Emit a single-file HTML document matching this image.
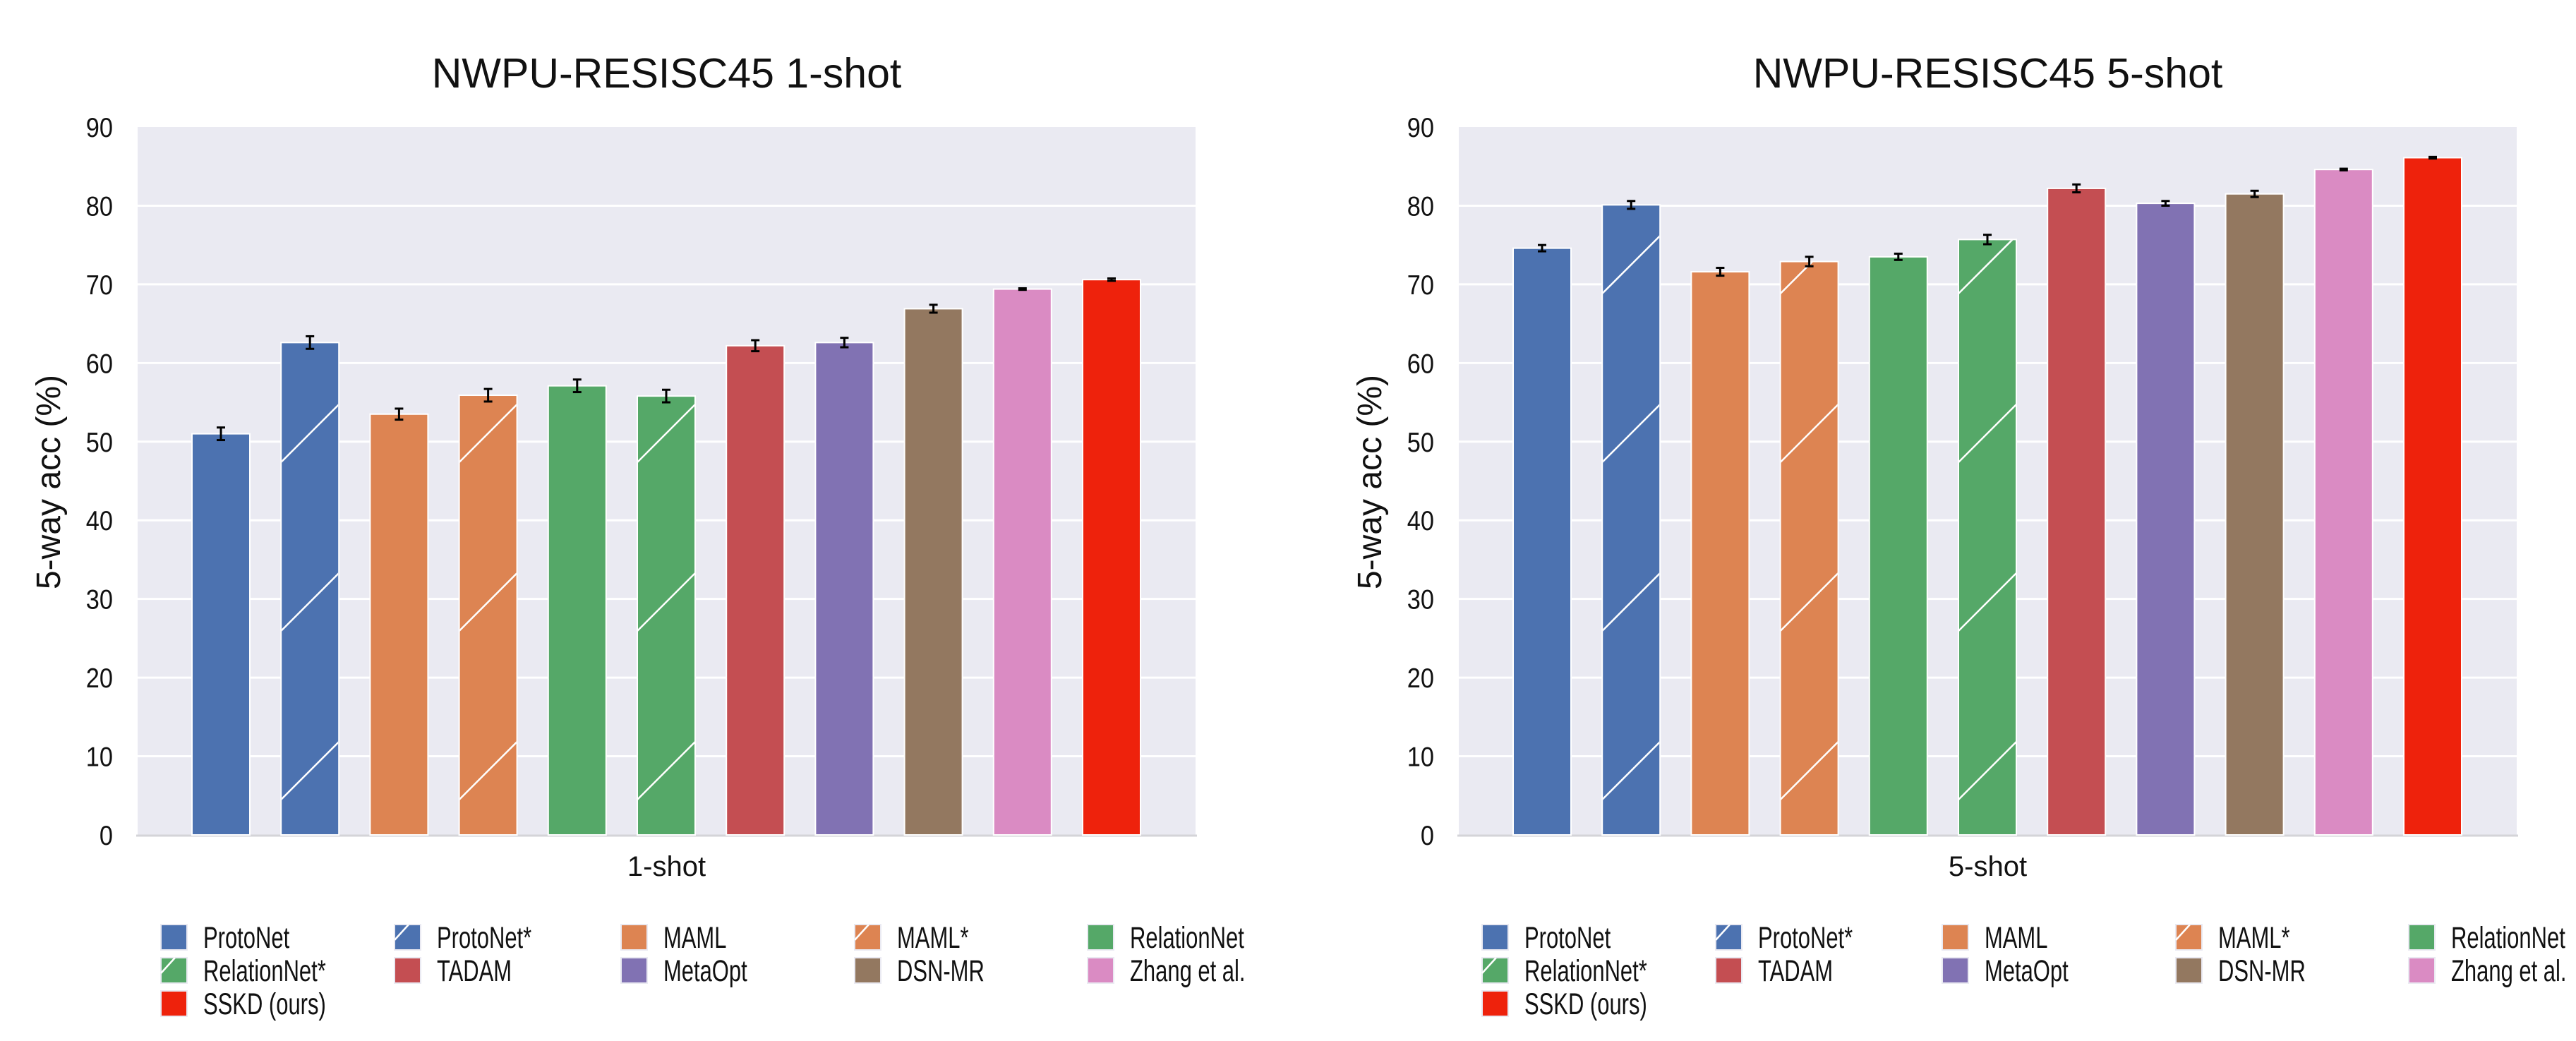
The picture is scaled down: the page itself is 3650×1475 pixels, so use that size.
<!DOCTYPE html>
<html><head><meta charset="utf-8">
<style>
html,body{margin:0;padding:0;background:#fff;}
svg{display:block;font-family:"Liberation Sans",Arial,sans-serif;}
</style></head>
<body>
<svg id="fig" width="3650" height="1475" viewBox="0 0 3650 1475" xmlns="http://www.w3.org/2000/svg"></svg>
<script>
const methods = ["ProtoNet","ProtoNet*","MAML","MAML*","RelationNet","RelationNet*","TADAM","MetaOpt","DSN-MR","Zhang et al.","SSKD (ours)"];
const colors = ["#4c72b0","#4c72b0","#dd8452","#dd8452","#55a868","#55a868","#c44e52","#8172b3","#937860","#da8bc3","#ee220c"];
const hatched = [false,true,false,true,false,true,false,false,false,false,false];
const oneShot = [51.0,62.6,53.5,55.9,57.1,55.8,62.2,62.6,66.9,69.4,70.6];
const oneShotErr = [0.8,0.8,0.7,0.8,0.8,0.8,0.7,0.6,0.5,0.1,0.15];
const fiveShot = [74.6,80.1,71.6,72.9,73.5,75.7,82.2,80.3,81.5,84.6,86.1];
const fiveShotErr = [0.4,0.5,0.5,0.6,0.4,0.6,0.5,0.3,0.4,0.1,0.1];
const yTicks = [0,10,20,30,40,50,60,70,80,90];

const NS="http://www.w3.org/2000/svg";
const svg=document.getElementById('fig');
function mk(tag,attrs,parent){const e=document.createElementNS(NS,tag);for(const k in attrs)e.setAttribute(k,attrs[k]);(parent||svg).appendChild(e);return e;}

const PT=180, PB=1183, PW=1499;
function yScale(v){return PB-(v/90)*(PB-PT);}

function drawPanel(px, title, xlabel, vals, errs, pid){
  const g=mk('g',{});
  
  
  const bg=mk('rect',{x:px,y:PT,width:PW,height:PB-PT,fill:'#eaeaf2'},g);
  
  
  yTicks.forEach(t=>{
    const y=yScale(t);
    if(t>0&&t<90){const l=mk('line',{x1:px,x2:px+PW,y1:y,y2:y,stroke:'#fff','stroke-width':3},g);
      
      }
    const tx=mk('text',{x:px-35,y:y+14,'font-size':39,'text-anchor':'end',fill:'#111'},g);
    tx.textContent=t;
    
    
    const w=tx.getComputedTextLength();
    tx.setAttribute('textLength',(w*0.88).toFixed(1));
    tx.setAttribute('lengthAdjust','spacingAndGlyphs');
  });
  const ax=mk('line',{x1:px-2,x2:px+PW+2,y1:PB+1,y2:PB+1,stroke:'#d4d4d8','stroke-width':3},g);
  
  
  const step=126.2, bw=82, first=px+118;
  vals.forEach((v,i)=>{
    const cx=first+i*step, x0=cx-bw/2, yt=yScale(v);
    const r=mk('rect',{x:x0,y:yt,width:bw,height:PB-yt,fill:colors[i],stroke:'#fff','stroke-width':2},g);
    
    
    if(hatched[i]){
      const cid=pid+'clip'+i;
      const cp=mk('clipPath',{id:cid},g);
      mk('rect',{x:x0+1,y:yt+1,width:bw-2,height:PB-yt-2},cp);
      const hg=mk('g',{'clip-path':'url(#'+cid+')'},g);
      
      
      for(let k=0;k<10;k++){
        const ly=PB-50-k*239;
        mk('line',{x1:x0,y1:ly,x2:x0+bw,y2:ly-bw,stroke:'#fff','stroke-width':2.5},hg);
      }
    }
    const e=errs[i], y1=yScale(v+e), y2=yScale(v-e);
    const eg=mk('g',{stroke:'#000','stroke-width':3},g);
    
    
    mk('line',{x1:cx,x2:cx,y1:y1,y2:y2},eg);
    mk('line',{x1:cx-6,x2:cx+6,y1:y1,y2:y1},eg);
    mk('line',{x1:cx-6,x2:cx+6,y1:y2,y2:y2},eg);
  });
  const tt=mk('text',{x:px+PW/2,y:124,'font-size':59,'text-anchor':'middle',fill:'#111'},g);
  tt.textContent=title;
  
  
  const xl=mk('text',{x:px+PW/2,y:1241,'font-size':40,'text-anchor':'middle',fill:'#111'},g);
  xl.textContent=xlabel;
  
  
  const yl=mk('text',{x:0,y:0,'font-size':48,'text-anchor':'middle',fill:'#111',transform:'translate('+(px-110)+',683) rotate(-90)'},g);
  yl.textContent='5-way acc (%)';
  
  
  // legend
  const colX=[228,559,880,1211,1541].map(v=>v-195+px);
  const rowY=[1310,1357,1404];
  methods.forEach((m,i)=>{
    const c=i%5, rw=Math.floor(i/5);
    const lx=colX[c], ly=rowY[rw];
    const lg=mk('g',{},g);
    
    
    mk('rect',{x:lx,y:ly,width:37,height:36,fill:colors[i],stroke:'#eaeaf2','stroke-width':2},lg);
    if(hatched[i]) mk('line',{x1:lx,y1:ly+22,x2:lx+20,y2:ly,stroke:'#fff','stroke-width':2.5},lg);
    const t=mk('text',{x:lx+60,y:ly+33,'font-size':43,fill:'#111'},lg);
    t.textContent=m;
    const w=t.getComputedTextLength();
    t.setAttribute('textLength', (w*0.72).toFixed(1));
    t.setAttribute('lengthAdjust','spacingAndGlyphs');
  });
}
drawPanel(195,'NWPU-RESISC45 1-shot','1-shot',oneShot,oneShotErr,'one-shot');
drawPanel(2067,'NWPU-RESISC45 5-shot','5-shot',fiveShot,fiveShotErr,'five-shot');
</script>
</body></html>
